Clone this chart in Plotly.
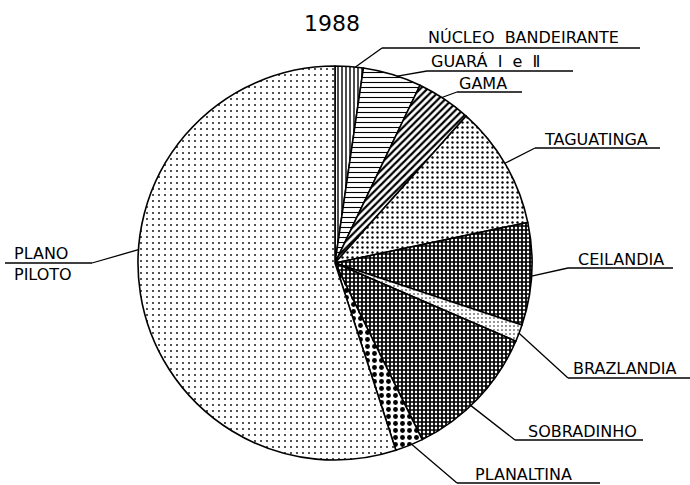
import math
import plotly.graph_objects as go

# Shares of each administrative region (percent), clockwise from 12 o'clock
regions = ["NÚCLEO BANDEIRANTE", "GUARÁ I e II", "GAMA", "TAGUATINGA", "CEILANDIA",
           "BRAZLANDIA", "SOBRADINHO", "PLANALTINA", "PLANO PILOTO"]
shares = [2.3, 4.8, 4.5, 10.1, 8.4, 1.4, 11.2, 2.3, 55.0]
label_lines = [["NÚCLEO  BANDEIRANTE"], ["GUARÁ  Ⅰ  e  Ⅱ"], ["GAMA"], ["TAGUATINGA"],
               ["CEILANDIA"], ["BRAZLANDIA"], ["SOBRADINHO"], ["PLANALTINA"],
               ["PLANO", "PILOTO"]]
title_text = "1988"

# Fill patterns for the slices
pat_shape = ["|", "-", "/", ".", "+", ".", "+", ".", "."]
pat_size = [4, 5, 5, 5, 4, 4, 4, 7, 6]
pat_solid = [0.35, 0.22, 0.45, 0.18, 0.68, 0.12, 0.68, 0.38, 0.07]

W, H = 690, 485
CX, CY, R = 335, 263, 197  # pie centre and radius in pixels

# Leader-line layout: where along the slice the leader starts, elbow point,
# end of the underline, text left edge and text centre line (pixels)
leader_frac = [0.72, 0.59, 0.45, 0.49, 0.52, 0.5, 0.57, 0.4, 0.565]
elbow = [(382, 48), (427, 71), (457, 92), (535, 148), (568, 268),
         (568, 378), (515, 440), (457, 483), (92, 263)]
line_end = [640, 573, 522, 660, 673, 690, 643, 600, 5]
text_left = [426, 429, 457, 542, 576, 571, 526, 473, 12]
text_y = [[38], [61], [83], [139], [259], [368], [431], [474], [253, 274]]


def px(x):
    return x / W


def py(y):
    return 1 - y / H


fig = go.Figure(go.Pie(
    labels=regions,
    values=shares,
    sort=False,
    direction="clockwise",
    rotation=0,
    textinfo="none",
    hoverinfo="skip",
    showlegend=False,
    domain=dict(x=[px(CX - R), px(CX + R)], y=[py(CY + R), py(CY - R)]),
    marker=dict(
        colors=["white"] * len(shares),
        line=dict(color="black", width=1.6),
        pattern=dict(shape=pat_shape, size=pat_size, solidity=pat_solid,
                     fgcolor="black", bgcolor="white", fillmode="replace"),
    ),
))

shapes = []
annotations = []
total = sum(shares)
start = 0.0
for i, v in enumerate(shares):
    ang = math.radians((start + leader_frac[i] * v) / total * 360.0)
    start += v
    ax = CX + R * math.sin(ang)
    ay = CY - R * math.cos(ang)
    ex, ey = elbow[i]
    line_style = dict(color="black", width=1.3)
    shapes.append(dict(type="line", xref="paper", yref="paper",
                       x0=px(ax), y0=py(ay), x1=px(ex), y1=py(ey), line=line_style))
    shapes.append(dict(type="line", xref="paper", yref="paper",
                       x0=px(ex), y0=py(ey), x1=px(line_end[i]), y1=py(ey), line=line_style))
    for txt, ty in zip(label_lines[i], text_y[i]):
        annotations.append(dict(text=txt, xref="paper", yref="paper",
                                x=px(text_left[i]), y=py(ty), xanchor="left", yanchor="middle",
                                showarrow=False,
                                font=dict(family="DejaVu Sans", size=16, color="black")))

annotations.append(dict(text=title_text, xref="paper", yref="paper",
                        x=px(332), y=py(23), xanchor="center", yanchor="middle",
                        showarrow=False,
                        font=dict(family="DejaVu Sans", size=22, color="black")))

fig.update_layout(
    width=W, height=H,
    margin=dict(l=0, r=0, t=0, b=0),
    paper_bgcolor="white",
    plot_bgcolor="white",
    shapes=shapes,
    annotations=annotations,
)

fig.write_html("out.html")
